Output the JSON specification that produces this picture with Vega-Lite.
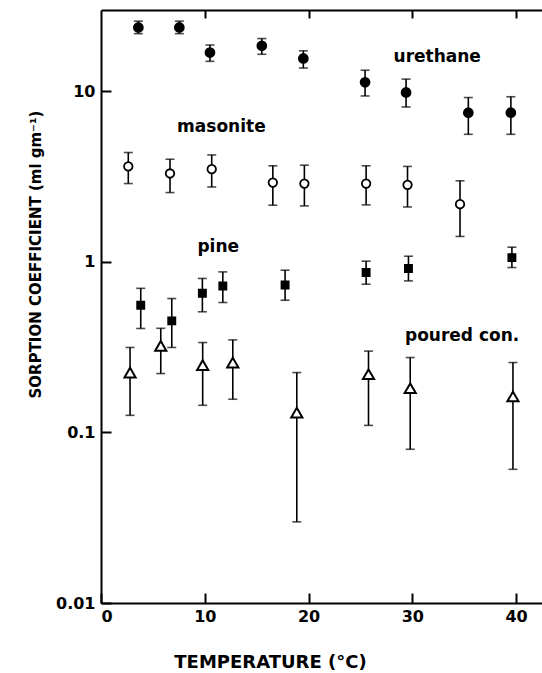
{
  "$schema": "https://vega.github.io/schema/vega-lite/v6.json",
  "width": 441,
  "height": 593,
  "autosize": {"type": "none"},
  "padding": {"left": 101, "top": 10, "right": 0, "bottom": 70},
  "background": "white",
  "config": {
    "view": {"stroke": null},
    "font": "DejaVu Sans",
    "axis": {"domainColor": "black", "domainWidth": 2, "tickColor": "black", "tickWidth": 2, "labelColor": "black", "titleColor": "black", "grid": false, "labelFont": "DejaVu Sans", "titleFont": "DejaVu Sans", "labelFontWeight": "bold", "titleFontWeight": "bold"}
  },
  "datasets": {
    "pts": [
      {"series": "urethane", "t": 3.6, "v": 23.7, "lo": 21.8, "hi": 25.8},
      {"series": "urethane", "t": 7.55, "v": 23.7, "lo": 21.8, "hi": 25.8},
      {"series": "urethane", "t": 10.5, "v": 16.9, "lo": 15.0, "hi": 18.7},
      {"series": "urethane", "t": 15.5, "v": 18.5, "lo": 16.5, "hi": 20.4},
      {"series": "urethane", "t": 19.5, "v": 15.6, "lo": 13.7, "hi": 17.3},
      {"series": "urethane", "t": 25.45, "v": 11.3, "lo": 9.4, "hi": 13.3},
      {"series": "urethane", "t": 29.4, "v": 9.85, "lo": 8.1, "hi": 11.8},
      {"series": "urethane", "t": 35.4, "v": 7.5, "lo": 5.6, "hi": 9.2},
      {"series": "urethane", "t": 39.5, "v": 7.5, "lo": 5.6, "hi": 9.3},
      {"series": "masonite", "t": 2.63, "v": 3.63, "lo": 2.88, "hi": 4.38},
      {"series": "masonite", "t": 6.65, "v": 3.3, "lo": 2.55, "hi": 4.0},
      {"series": "masonite", "t": 10.67, "v": 3.5, "lo": 2.75, "hi": 4.24},
      {"series": "masonite", "t": 16.56, "v": 2.92, "lo": 2.15, "hi": 3.66},
      {"series": "masonite", "t": 19.6, "v": 2.88, "lo": 2.13, "hi": 3.69},
      {"series": "masonite", "t": 25.55, "v": 2.88, "lo": 2.16, "hi": 3.66},
      {"series": "masonite", "t": 29.54, "v": 2.83, "lo": 2.1, "hi": 3.63},
      {"series": "masonite", "t": 34.6, "v": 2.18, "lo": 1.41, "hi": 2.99},
      {"series": "pine", "t": 3.83, "v": 0.557, "lo": 0.407, "hi": 0.7},
      {"series": "pine", "t": 6.82, "v": 0.451, "lo": 0.315, "hi": 0.61},
      {"series": "pine", "t": 9.77, "v": 0.655, "lo": 0.51, "hi": 0.8},
      {"series": "pine", "t": 11.74, "v": 0.723, "lo": 0.578, "hi": 0.874},
      {"series": "pine", "t": 17.74, "v": 0.733, "lo": 0.596, "hi": 0.894},
      {"series": "pine", "t": 25.55, "v": 0.867, "lo": 0.74, "hi": 1.01},
      {"series": "pine", "t": 29.63, "v": 0.915, "lo": 0.774, "hi": 1.08},
      {"series": "pine", "t": 39.6, "v": 1.06, "lo": 0.927, "hi": 1.22},
      {"series": "poured con.", "t": 2.8, "v": 0.2245, "lo": 0.126, "hi": 0.315},
      {"series": "poured con.", "t": 5.76, "v": 0.3216, "lo": 0.2215, "hi": 0.408},
      {"series": "poured con.", "t": 9.8, "v": 0.248, "lo": 0.1443, "hi": 0.3367},
      {"series": "poured con.", "t": 12.7, "v": 0.257, "lo": 0.1566, "hi": 0.349},
      {"series": "poured con.", "t": 18.87, "v": 0.1308, "lo": 0.0299, "hi": 0.2245},
      {"series": "poured con.", "t": 25.78, "v": 0.2195, "lo": 0.11, "hi": 0.3},
      {"series": "poured con.", "t": 29.8, "v": 0.1816, "lo": 0.0797, "hi": 0.275},
      {"series": "poured con.", "t": 39.7, "v": 0.1625, "lo": 0.0608, "hi": 0.257}
    ],
    "labels": [
      {"name": "urethane", "t": 32.4, "v": 15.9},
      {"name": "masonite", "t": 11.6, "v": 6.17},
      {"name": "pine", "t": 11.3, "v": 1.22},
      {"name": "poured con.", "t": 34.8, "v": 0.368}
    ]
  },
  "resolve": {"axis": {"x": "independent", "y": "independent"}},
  "layer": [
    {
      "data": {"name": "pts"},
      "mark": {"type": "rule", "color": "black", "strokeWidth": 1.6},
      "encoding": {
        "x": {"field": "t", "type": "quantitative", "scale": {"domain": [0, 42.5], "nice": false, "zero": false},
          "axis": {"orient": "bottom", "values": [0, 10, 20, 30, 40], "tickSize": -10, "labelFontSize": 16, "labelPadding": 15, "title": "TEMPERATURE (°C)", "titleFontSize": 18, "titleX": 169, "titleY": 59, "titleAlign": "center", "titleBaseline": "middle", "titleAnchor": null}},
        "y": {"field": "lo", "type": "quantitative", "scale": {"type": "log", "domain": [0.01, 30], "nice": false},
          "axis": {"orient": "left", "values": [0.01, 0.1, 1, 10], "format": "~g", "tickSize": -10, "labelFontSize": 16, "labelPadding": 16, "title": "SORPTION COEFFICIENT (ml gm⁻¹)", "titleFontSize": 15, "titleX": -66, "titleY": 244, "titleAngle": -90, "titleAlign": "center", "titleBaseline": "middle", "titleAnchor": null}},
        "y2": {"field": "hi"}
      }
    },
    {
      "data": {"name": "pts"},
      "mark": {"type": "tick", "orient": "horizontal", "color": "black", "size": 9, "thickness": 1.6},
      "encoding": {
        "x": {"field": "t", "type": "quantitative",
          "axis": {"orient": "top", "values": [10, 20, 30, 40], "tickSize": -8, "labels": false, "title": null}},
        "y": {"field": "lo", "type": "quantitative", "axis": null}
      }
    },
    {
      "data": {"name": "pts"},
      "mark": {"type": "tick", "orient": "horizontal", "color": "black", "size": 9, "thickness": 1.6},
      "encoding": {
        "x": {"field": "t", "type": "quantitative", "axis": null},
        "y": {"field": "hi", "type": "quantitative", "axis": null}
      }
    },
    {
      "data": {"name": "pts"},
      "transform": [{"filter": "datum.series === 'urethane'"}],
      "mark": {"type": "point", "shape": "circle", "filled": true, "fill": "black", "opacity": 1, "stroke": "black", "strokeWidth": 1.8, "size": 80},
      "encoding": {
        "x": {"field": "t", "type": "quantitative", "axis": null},
        "y": {"field": "v", "type": "quantitative", "axis": null}
      }
    },
    {
      "data": {"name": "pts"},
      "transform": [{"filter": "datum.series === 'masonite'"}],
      "mark": {"type": "point", "shape": "circle", "filled": true, "fill": "white", "opacity": 1, "stroke": "black", "strokeWidth": 1.8, "size": 72},
      "encoding": {
        "x": {"field": "t", "type": "quantitative", "axis": null},
        "y": {"field": "v", "type": "quantitative", "axis": null}
      }
    },
    {
      "data": {"name": "pts"},
      "transform": [{"filter": "datum.series === 'pine'"}],
      "mark": {"type": "point", "shape": "square", "filled": true, "fill": "black", "opacity": 1, "stroke": "black", "strokeWidth": 1.5, "size": 55},
      "encoding": {
        "x": {"field": "t", "type": "quantitative", "axis": null},
        "y": {"field": "v", "type": "quantitative", "axis": null}
      }
    },
    {
      "data": {"name": "pts"},
      "transform": [{"filter": "datum.series === 'poured con.'"}],
      "mark": {"type": "point", "shape": "triangle-up", "filled": true, "fill": "white", "opacity": 1, "stroke": "black", "strokeWidth": 2, "size": 125},
      "encoding": {
        "x": {"field": "t", "type": "quantitative", "axis": null},
        "y": {"field": "v", "type": "quantitative", "axis": null}
      }
    },
    {
      "data": {"name": "labels"},
      "mark": {"type": "text", "font": "DejaVu Sans", "fontWeight": "bold", "fontSize": 17, "align": "center", "baseline": "middle", "color": "black"},
      "encoding": {
        "x": {"field": "t", "type": "quantitative", "axis": null},
        "y": {"field": "v", "type": "quantitative", "axis": null},
        "text": {"field": "name"}
      }
    }
  ]
}
